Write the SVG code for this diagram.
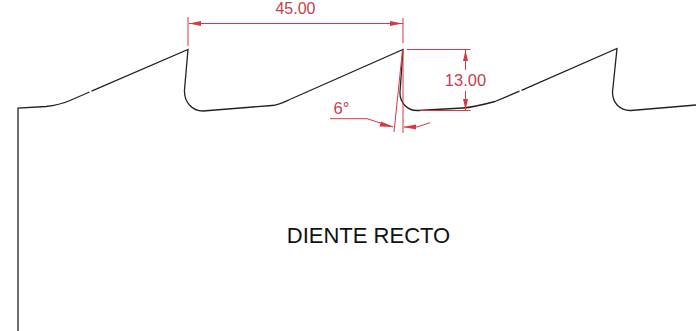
<svg xmlns="http://www.w3.org/2000/svg" width="696" height="331" viewBox="0 0 696 331">
<defs>
<style>
.p{fill:none;stroke:#222;stroke-width:1.3}
.d{fill:none;stroke:#d8383f;stroke-width:1}
.a{fill:#d8383f;stroke:none}
.t{font-family:"Liberation Sans",Arial,sans-serif}
</style>
</defs>
<rect width="696" height="331" fill="#fff"/>
<g id="profile">
<path class="p" d="M18 331V108L46 106.500C56 105.500 62 104 70 100.500L89.500 92M91.500 91.200L188 49.500L184.500 90C184 102 192 111 203 111L272 105.500C279 105 284 102 292 98.500L403 49.500L400 92C399.500 102 407 111 418 110.500L463 108C472 107.500 482 105 495 101.500L519.500 91.200M521.500 90.400L617 48.500L612.500 92C612.500 103 620 111 631 110.500L696 105"/>
</g>
<g id="dimensions">
<path class="d" d="M188 46V17M403 43V18M189 23.500H403"/>
<path class="a" d="M189 23.500L201 21V26ZM402.500 23.500L390 21V26Z"/>
<path class="d" d="M407 49.500H470.500M420 110.500H470.500M465.500 70V50M465.500 91V110"/>
<path class="a" d="M465.500 50L463 61H468ZM465.500 110L463 99H468Z"/>
<path class="d" d="M403 50V133M402.500 50L394 132M330 118.700H367L393 127"/>
<path class="a" d="M394 127L381 121.500 379.500 126.500ZM403.500 127L416 124.500V129.500Z"/>
<path class="d" d="M404 127H417L430 122.700"/>
</g>
<g id="labels">
<text class="t" x="295.500" y="14" text-anchor="middle" font-size="16" fill="#c8404a">45.00</text>
<text class="t" x="465.500" y="86" text-anchor="middle" font-size="16.500" fill="#c8404a">13.00</text>
<text class="t" x="341.500" y="114" text-anchor="middle" font-size="16.500" fill="#c8404a">6°</text>
<text class="t" x="368.500" y="243" text-anchor="middle" font-size="22" fill="#111">DIENTE RECTO</text>
</g>
</svg>
